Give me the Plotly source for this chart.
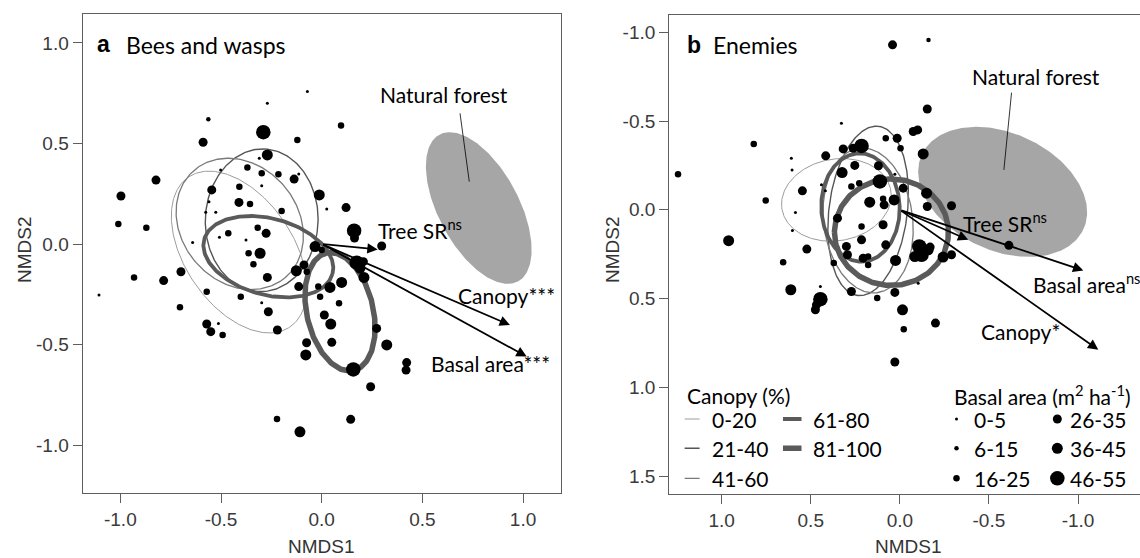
import numpy as np
import plotly.graph_objects as go

# ---------------- data ----------------
size_classes = ["0-5", "6-15", "16-25", "26-35", "36-45", "46-55"]
marker_px = [3, 4.5, 6.5, 9, 11, 14.5]

canopy_classes = ["0-20", "21-40", "41-60", "61-80", "81-100"]
canopy_color = ["#9c9c9c", "#555555", "#7a7a7a", "#5a5a5a", "#5a5a5a"]
canopy_width = [1.0, 1.4, 1.3, 3.8, 5.5]

# Panel a: bees and wasps (site scores)
a_x = [-0.071, -0.27, -0.563, -0.29, 0.096, -0.589, -0.121, -0.27, -0.823, -0.997,
       -0.369, -0.298, -0.215, -0.137, -0.114, -0.409, -0.298, -0.546, -0.012, -0.411,
       -0.356, 0.121, 0.025, -0.199, -0.56, -0.526, -0.576, -1.01, -0.871, -0.318,
       -0.276, -0.464, -0.508, -0.376, -0.641, 0.161, 0.163, 0.298, -0.033, 0.0,
       -0.306, -0.363, -0.339, 0.174, 0.207, 0.21, 0.19, -0.126, -0.088, -0.074,
       -0.27, -0.699, -0.932, -0.785, -1.106, 0.099, 0.041, -0.114, -0.017, -0.571,
       -0.402, -0.008, 0.086, -0.298, -0.704, -0.265, 0.013, 0.045, -0.571, -0.551,
       -0.513, -0.492, -0.22, 0.273, 0.323, -0.075, 0.05, -0.079, 0.157, 0.422,
       0.419, 0.243, -0.222, 0.144, -0.108, -0.502, -0.31]
a_y = [0.758, 0.70, 0.62, 0.556, 0.589, 0.506, 0.517, 0.443, 0.318, 0.239,
       0.381, 0.352, 0.347, 0.323, 0.348, 0.285, 0.29, 0.269, 0.244, 0.207,
       0.199, 0.181, 0.174, 0.164, 0.21, 0.158, 0.158, 0.10, 0.081, 0.081,
       0.053, 0.053, 0.033, 0.02, 0.007, 0.066, 0.03, -0.01, -0.013, -0.03,
       -0.046, -0.046, -0.101, -0.093, -0.088, -0.166, -0.12, -0.133, -0.104, -0.138,
       -0.166, -0.138, -0.166, -0.182, -0.254, -0.191, -0.216, -0.212, -0.212, -0.237,
       -0.262, -0.262, -0.295, -0.292, -0.315, -0.337, -0.353, -0.398, -0.398, -0.436,
       -0.395, -0.453, -0.428, -0.42, -0.502, -0.491, -0.489, -0.552, -0.624, -0.59,
       -0.627, -0.71, -0.871, -0.872, -0.934, 0.368, 0.426]
a_cls = [0, 0, 1, 5, 2, 3, 2, 4, 3, 3,
         2, 2, 2, 3, 0, 2, 0, 3, 4, 3,
         2, 3, 0, 2, 0, 0, 0, 2, 2, 2,
         3, 2, 0, 0, 0, 5, 3, 3, 4, 2,
         4, 2, 2, 5, 3, 4, 4, 4, 3, 2,
         3, 3, 2, 3, 0, 4, 4, 3, 2, 2,
         2, 2, 2, 0, 2, 3, 3, 4, 3, 3,
         0, 2, 3, 3, 4, 3, 3, 4, 5, 3,
         3, 3, 2, 3, 4, 0, 0]

# Panel a ellipses per canopy class: centre, semi-axes, angle (deg)
a_ell_cx = [-0.41, -0.298, -0.407, -0.265, 0.091]
a_ell_cy = [-0.04, 0.118, 0.10, -0.063, -0.337]
a_ell_a = [0.45, 0.355, 0.35, 0.33, 0.30]
a_ell_b = [0.27, 0.28, 0.29, 0.19, 0.165]
a_ell_ang = [-56, 88, -50, -15, -77]
# natural forest ellipse (a)
a_nf = [0.78, 0.179, 0.414, 0.20, -62]

# Panel a environmental vectors
vec_names_a = ["Tree SR<sup>ns</sup>", "Canopy***", "Basal area***"]
a_vec_x = [0.278, 0.935, 1.018]
a_vec_y = [-0.027, -0.403, -0.56]

# Panel b: enemies
b_x = [0.041, -0.161, -0.154, 0.328, 0.82, 1.245, -0.075, -0.1, 0.079, 0.015,
       0.215, 0.262, 0.318, -0.004, -0.131, 0.416, 0.609, 0.253, 0.12, 0.324,
       0.605, 0.028, 0.228, 0.112, 0.272, 0.44, -0.019, -0.15, 0.547, 0.418,
       0.169, 0.094, 0.032, 0.088, -0.154, -0.29, 0.753, 0.586, 0.35, 0.094,
       0.215, 0.603, 0.961, 0.215, 0.3, 0.079, 0.522, -0.109, -0.159, -0.122,
       -0.084, -0.17, -0.612, 0.294, 0.206, 0.178, 0.024, -0.243, -0.29, 0.655,
       0.371, 0.178, 0.612, 0.446, 0.446, 0.468, 0.474, 0.272, 0.127, 0.028,
       -0.103, -0.015, -0.2, -0.022, 0.028]
b_y = [-0.929, -0.957, -0.568, -0.488, -0.371, -0.2, -0.441, -0.45, -0.403, -0.403,
       -0.36, -0.347, -0.343, -0.347, -0.315, -0.304, -0.291, -0.25, -0.248, -0.21,
       -0.225, -0.2, -0.15, -0.16, -0.131, -0.141, -0.122, -0.094, -0.107, -0.107,
       -0.043, -0.062, -0.056, -0.028, -0.019, -0.023, -0.053, 0.015, 0.047, 0.084,
       0.094, 0.116, 0.174, 0.169, 0.206, 0.197, 0.221, 0.206, 0.225, 0.253,
       0.263, 0.21, 0.2, 0.253, 0.272, 0.263, 0.285, 0.266, 0.253, 0.295,
       0.3, 0.31, 0.45, 0.432, 0.503, 0.535, 0.563, 0.46, 0.497, 0.465,
       0.413, 0.563, 0.638, 0.672, 0.857]
b_cls = [3, 1, 3, 0, 2, 2, 3, 3, 2, 3,
         5, 3, 3, 2, 4, 3, 0, 3, 3, 4,
         0, 0, 2, 5, 2, 0, 3, 4, 3, 0,
         4, 2, 4, 3, 3, 3, 2, 0, 3, 3,
         2, 0, 4, 3, 3, 3, 3, 5, 4, 5,
         4, 3, 3, 3, 3, 2, 4, 4, 3, 2,
         2, 2, 4, 0, 5, 3, 3, 3, 2, 3,
         0, 4, 3, 2, 3]

b_ell_cx = [0.356, 0.178, 0.178, 0.221, 0.047]
b_ell_cy = [-0.056, 0.006, 0.06, -0.013, 0.126]
b_ell_a = [0.31, 0.48, 0.41, 0.305, 0.32]
b_ell_b = [0.23, 0.22, 0.25, 0.22, 0.30]
b_ell_ang = [10, 83, 97, 92, 0]
b_nf = [-0.577, -0.101, 0.50, 0.33, -25]

vec_names_b = ["Tree SR<sup>ns</sup>", "Basal area<sup>ns</sup>", "Canopy*"]
b_vec_x = [-0.384, -1.03, -1.114]
b_vec_y = [0.169, 0.341, 0.788]

a_ticks = [-1.0, -0.5, 0.0, 0.5, 1.0]
a_ticktext = ["-1.0", "-0.5", "0.0", "0.5", "1.0"]
b_xticks = [1.0, 0.5, 0.0, -0.5, -1.0]
b_xticktext = ["1.0", "0.5", "0.0", "-0.5", "-1.0"]
b_yticks = [-1.0, -0.5, 0.0, 0.5, 1.0, 1.5]
b_yticktext = ["-1.0", "-0.5", "0.0", "0.5", "1.0", "1.5"]

# ---------------- helpers ----------------
W, H = 1140, 558
TXT = "Lato"
TICKF = "Liberation Sans"
AXC = "#5e5e5e"


def ell(cx, cy, a, b, ang, n=240):
    t = np.linspace(0, 2 * np.pi, n)
    p = np.deg2rad(ang)
    x = cx + a * np.cos(t) * np.cos(p) - b * np.sin(t) * np.sin(p)
    y = cy + a * np.cos(t) * np.sin(p) + b * np.sin(t) * np.cos(p)
    return x, y


fig = go.Figure()

panels = [
    ("x", "y", a_nf, a_ell_cx, a_ell_cy, a_ell_a, a_ell_b, a_ell_ang, a_x, a_y, a_cls),
    ("x2", "y2", b_nf, b_ell_cx, b_ell_cy, b_ell_a, b_ell_b, b_ell_ang, b_x, b_y, b_cls),
]
for xr, yr, nf, cx, cy, ea, eb, eg, px_, py_, cl in panels:
    ex, ey = ell(*nf)
    fig.add_trace(go.Scatter(x=ex, y=ey, xaxis=xr, yaxis=yr, mode="lines", fill="toself",
                             fillcolor="#a6a6a6", line=dict(width=0), hoverinfo="skip",
                             showlegend=False))
    for i in range(len(canopy_classes)):
        ex, ey = ell(cx[i], cy[i], ea[i], eb[i], eg[i])
        fig.add_trace(go.Scatter(x=ex, y=ey, xaxis=xr, yaxis=yr, mode="lines",
                                 line=dict(color=canopy_color[i], width=canopy_width[i]),
                                 hoverinfo="skip", showlegend=False))
    fig.add_trace(go.Scatter(x=px_, y=py_, xaxis=xr, yaxis=yr, mode="markers",
                             marker=dict(color="black", opacity=1,
                                         size=[marker_px[c] for c in cl],
                                         line=dict(width=0)),
                             showlegend=False))

# natural forest pointer lines
fig.add_trace(go.Scatter(x=[0.687, 0.733], y=[0.65, 0.31], mode="lines",
                         line=dict(color="black", width=0.8), showlegend=False))
fig.add_trace(go.Scatter(x=[-0.627, -0.584], y=[-0.66, -0.225], xaxis="x2", yaxis="y2",
                         mode="lines", line=dict(color="black", width=0.8), showlegend=False))

ann = []
for xr, yr, vx, vy in [("x", "y", a_vec_x, a_vec_y), ("x2", "y2", b_vec_x, b_vec_y)]:
    for ex_, ey_ in zip(vx, vy):
        ann.append(dict(x=ex_, y=ey_, ax=0, ay=0, xref=xr, yref=yr, axref=xr, ayref=yr,
                        showarrow=True, arrowhead=2, arrowsize=1.15, arrowwidth=1.8,
                        arrowcolor="black", text="", standoff=0))


def lab(x, y, t, xr="x", yr="y", size=21, xa="left", **kw):
    ann.append(dict(x=x, y=y, xref=xr, yref=yr, text=t, showarrow=False, xanchor=xa,
                    yanchor="middle", font=dict(family=TXT, size=size, color="black"), **kw))


# panel a labels
lab(0.605, 0.743, "Natural forest", xa="center", size=21)
lab(0.27, 0.075, vec_names_a[0])
lab(0.919, -0.254, vec_names_a[1], xa="center")
lab(0.535, -0.594, vec_names_a[2])
# panel b labels
lab(-0.762, -0.75, "Natural forest", "x2", "y2", xa="center", size=21)
lab(-0.341, 0.071, vec_names_b[0], "x2", "y2")
lab(-0.734, 0.413, vec_names_b[1], "x2", "y2")
lab(-0.446, 0.685, vec_names_b[2], "x2", "y2")


def ptx(xp, yp, t, size, fam=TXT, xa="left", **kw):
    ann.append(dict(x=xp / W, y=1 - yp / H, xref="paper", yref="paper", text=t,
                    showarrow=False, xanchor=xa, yanchor="middle",
                    font=dict(family=fam, size=size, color="black"), **kw))


ptx(95, 44, "<b>a</b>", 23, fam="Liberation Sans")
ptx(124, 45, "Bees and wasps", 23)
ptx(685, 45, "<b>b</b>", 23, fam="Liberation Sans")
ptx(711, 45, "Enemies", 23)
# axis titles
for xp, yp, t, rot in [(321.7, 546, "NMDS1", 0), (908, 546, "NMDS1", 0),
                       (24, 250, "NMDS2", -90), (612, 250, "NMDS2", -90)]:
    ann.append(dict(x=xp / W, y=1 - yp / H, xref="paper", yref="paper", text=t,
                    showarrow=False, xanchor="center", yanchor="middle", textangle=rot,
                    font=dict(family=TICKF, size=19, color="#333333")))

# legends in panel b
shapes = []
lab(1.208, 1.043, "Canopy (%)", "x2", "y2")
lab(-0.29, 1.043, "Basal area (m<sup>2</sup> ha<sup>-1</sup>)", "x2", "y2")
rows = [1.178, 1.343, 1.512]
can_pos = [(1.208, 1.124, 1.067, 0), (1.208, 1.124, 1.067, 1), (1.208, 1.124, 1.067, 2),
           (0.656, 0.552, 0.496, 0), (0.656, 0.552, 0.496, 1)]
for i, (x0, x1, xt, r) in enumerate(can_pos):
    shapes.append(dict(type="line", xref="x2", yref="y2", x0=x0, x1=x1, y0=rows[r], y1=rows[r],
                       line=dict(color=canopy_color[i], width=canopy_width[i])))
    lab(xt, rows[r], canopy_classes[i], "x2", "y2")
leg_x, leg_y, leg_s = [], [], []
for i, s in enumerate(size_classes):
    col = i // 3
    r = i % 3
    dx = -0.318 if col == 0 else -0.884
    tx = -0.403 if col == 0 else -0.946
    leg_x.append(dx)
    leg_y.append(rows[r])
    leg_s.append(marker_px[i])
    lab(tx, rows[r], s, "x2", "y2")
fig.add_trace(go.Scatter(x=leg_x, y=leg_y, xaxis="x2", yaxis="y2", mode="markers",
                         marker=dict(color="black", opacity=1, size=leg_s, line=dict(width=0)),
                         showlegend=False))

axis_common = dict(showgrid=False, zeroline=False, showline=True, linecolor=AXC, linewidth=1.3,
                   ticks="outside", ticklen=9, tickcolor=AXC, tickwidth=1.2,
                   tickfont=dict(family=TICKF, size=19, color="#3a3a3a"))

fig.update_layout(
    width=W, height=H, margin=dict(l=0, r=0, t=0, b=0),
    paper_bgcolor="white", plot_bgcolor="white", showlegend=False,
    xaxis=dict(domain=[82.7 / W, 560.7 / W], range=[-1.187, 1.187], mirror=True,
               tickvals=a_ticks, ticktext=a_ticktext, anchor="y", **axis_common),
    yaxis=dict(domain=[1 - 492.7 / H, 1 - 14 / H], range=[-1.237, 1.144], mirror=True,
               tickvals=a_ticks, ticktext=a_ticktext, anchor="x", **axis_common),
    xaxis2=dict(domain=[669.3 / W, 1.0], range=[1.294, -1.348], mirror=True,
                tickvals=b_xticks, ticktext=b_xticktext, anchor="y2", **axis_common),
    yaxis2=dict(domain=[1 - 494.3 / H, 1 - 14.5 / H], range=[1.602, -1.10], mirror=False,
                tickvals=b_yticks, ticktext=b_yticktext, anchor="x2", **axis_common),
    annotations=ann, shapes=shapes,
)

fig.write_html("out.html", config={"displayModeBar": False},
               post_script="document.body.style.margin='0';document.body.style.overflow='hidden';")
